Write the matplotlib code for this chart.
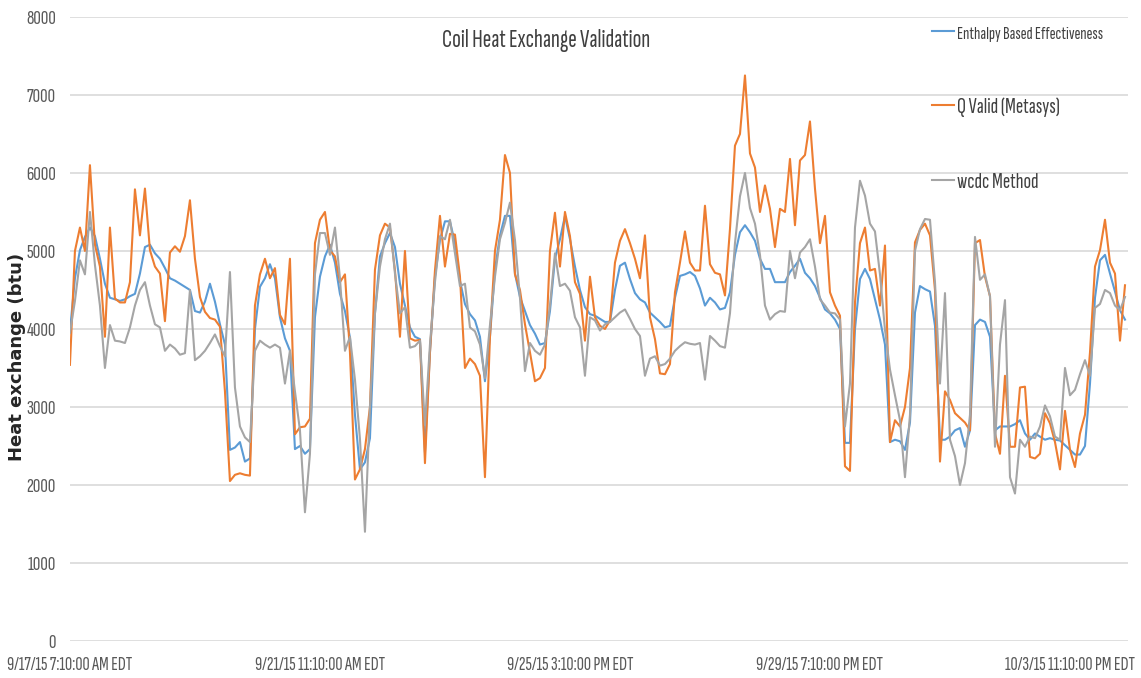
import numpy as np
import matplotlib
matplotlib.use('Agg')
import matplotlib.pyplot as plt
from matplotlib import font_manager

# pick a narrow sans face for the chart text, with a size factor for each
available = {f.name for f in font_manager.fontManager.ttflist}
narrow, k = 'DejaVu Sans', 0.7
for name, factor in [('Sofia Sans Extra Condensed', 1.0), ('Barlow Condensed', 0.85),
                     ('Roboto Condensed', 0.75), ('Liberation Sans', 0.7)]:
    if name in available:
        narrow, k = name, factor
        break
plt.rcParams['font.family'] = [narrow, 'DejaVu Sans']

# readings every 2 hours starting 9/17/15 7:10 AM EDT
enthalpy = [
    3970, 4650, 5010, 5180, 5300, 5190, 4900, 4580, 4400, 4380,
    4360, 4380, 4420, 4450, 4710, 5050, 5080, 4970, 4900, 4780,
    4650, 4620, 4580, 4540, 4500, 4230, 4210, 4350, 4580, 4350,
    4060, 3800, 2450, 2480, 2550, 2300, 2340, 4000, 4540, 4650,
    4830, 4650, 4150, 3880, 3720, 2460, 2500, 2400, 2460, 4150,
    4670, 4930, 5080, 4850, 4450, 4230, 3890, 2900, 2200, 2290,
    2600, 4200, 4930, 5100, 5230, 5050, 4580, 4300, 4020, 3900,
    3870, 2420, 3700, 4670, 5140, 5380, 5380, 5100, 4620, 4320,
    4190, 4110, 3900, 3330, 3900, 4760, 5200, 5450, 5450, 4710,
    4410, 4230, 4050, 3940, 3800, 3820, 4230, 4900, 5150, 5450,
    5150, 4800, 4500, 4280, 4190, 4170, 4130, 4090, 4090, 4500,
    4810, 4850, 4640, 4460, 4380, 4340, 4210, 4150, 4090, 4020,
    4040, 4400, 4680, 4700, 4730, 4680, 4520, 4300, 4400, 4340,
    4250, 4270, 4470, 4950, 5240, 5330, 5240, 5130, 4900, 4770,
    4770, 4600, 4600, 4600, 4730, 4810, 4900, 4720, 4650, 4550,
    4400, 4250, 4200, 4120, 4000, 2540, 2540, 4000, 4640, 4770,
    4640, 4380, 4120, 3800, 2550, 2580, 2560, 2450, 2800, 4210,
    4550, 4510, 4480, 4040, 2580, 2580, 2620, 2700, 2730, 2490,
    2700, 4050, 4120, 4090, 3900, 2700, 2750, 2750, 2750, 2780,
    2830, 2660, 2580, 2660, 2620, 2580, 2600, 2580, 2570, 2510,
    2450, 2390, 2390, 2500, 3300, 4400, 4880, 4950, 4710, 4480,
    4240, 4120,
]

q_valid = [
    3540, 5000, 5300, 5000, 6100, 5080, 4800, 3900, 5300, 4390,
    4340, 4340, 4600, 5790, 5200, 5800, 5010, 4800, 4710, 4100,
    4980, 5060, 4990, 5190, 5650, 4900, 4410, 4220, 4140, 4120,
    4030, 3200, 2050, 2130, 2150, 2130, 2120, 4300, 4700, 4900,
    4650, 4780, 4180, 4060, 4900, 2650, 2740, 2750, 2850, 5100,
    5400, 5500, 5010, 4930, 4600, 4700, 3700, 2070, 2200, 2460,
    3000, 4760, 5200, 5350, 5300, 4750, 3900, 5000, 3880, 3850,
    3860, 2280, 3700, 4750, 5450, 4800, 5220, 5210, 4670, 3500,
    3620, 3550, 3400, 2100, 3900, 5000, 5400, 6230, 6000, 4700,
    4500, 4060, 3700, 3330, 3370, 3500, 5000, 5490, 4800, 5500,
    5190, 4600, 4450, 3850, 4670, 4150, 4040, 4000, 4110, 4850,
    5130, 5280, 5100, 4900, 4650, 5200, 4150, 3870, 3430, 3420,
    3550, 4470, 4850, 5250, 4850, 4750, 4750, 5580, 4830, 4720,
    4700, 4430, 5280, 6350, 6500, 7250, 6250, 6070, 5500, 5840,
    5540, 5050, 5540, 5500, 6180, 5330, 6160, 6230, 6660, 5800,
    5100, 5450, 4470, 4300, 4170, 2240, 2180, 4340, 5100, 5300,
    4750, 4770, 4300, 5070, 2550, 2830, 2750, 3000, 3500, 5110,
    5270, 5350, 5200, 4500, 2300, 3200, 3090, 2920, 2860, 2800,
    2700, 5100, 5140, 4670, 4420, 2660, 2400, 3400, 2490, 2490,
    3250, 3260, 2360, 2340, 2400, 2920, 2790, 2550, 2200, 2950,
    2450, 2230, 2660, 2900, 3700, 4800, 5010, 5400, 4850, 4710,
    3850, 4560,
]

wcdc = [
    3950, 4360, 4880, 4700, 5500, 4820, 4300, 3500, 4050, 3850,
    3840, 3820, 4020, 4300, 4500, 4600, 4300, 4060, 4020, 3720,
    3800, 3750, 3670, 3690, 4500, 3600, 3650, 3720, 3820, 3930,
    3780, 3650, 4730, 3250, 2750, 2610, 2550, 3720, 3850, 3800,
    3760, 3800, 3760, 3300, 3720, 3200, 2700, 1650, 2400, 4700,
    5230, 5230, 4950, 5300, 4650, 3720, 3900, 3350, 2590, 1400,
    3000, 4200, 4800, 5150, 5350, 4710, 4200, 4280, 3760, 3780,
    3850, 2770, 3800, 4600, 5190, 5150, 5400, 4970, 4550, 4580,
    4020, 3970, 3800, 3370, 4050, 4670, 5150, 5360, 5620, 5140,
    4400, 3460, 3820, 3720, 3670, 3800, 4300, 4970, 4550, 4580,
    4490, 4150, 4020, 3400, 4150, 4110, 3980, 4060, 4090, 4150,
    4210, 4250, 4130, 4000, 3910, 3400, 3620, 3650, 3530, 3550,
    3620, 3720, 3780, 3830, 3810, 3800, 3820, 3350, 3910, 3850,
    3780, 3760, 4200, 5100, 5700, 6000, 5550, 5350, 4950, 4300,
    4120, 4190, 4230, 4220, 5000, 4650, 4980, 5050, 5150, 4800,
    4380, 4300, 4210, 4200, 4120, 2750, 3300, 5300, 5900, 5710,
    5350, 5250, 4700, 3990, 3480, 3150, 2830, 2100, 2900, 5000,
    5280, 5410, 5400, 4600, 3300, 4460, 2580, 2370, 2000, 2280,
    2900, 5180, 4630, 4700, 4420, 2490, 3800, 4370, 2100, 1890,
    2580, 2490, 2620, 2600, 2750, 3020, 2880, 2620, 2580, 3500,
    3150, 3220, 3420, 3600, 3400, 4270, 4320, 4500, 4460, 4300,
    4240, 4410,
]

tick_hours = [0, 100, 200, 300, 400]
tick_labels = ['9/17/15 7:10:00 AM EDT', '9/21/15 11:10:00 AM EDT',
               '9/25/15 3:10:00 PM EDT', '9/29/15 7:10:00 PM EDT',
               '10/3/15 11:10:00 PM EDT']

hours = np.arange(len(q_valid)) * 2

fig = plt.figure(figsize=(11.41, 6.78), dpi=100)
ax = fig.add_axes([0.0613, 0.0546, 0.9273, 0.9204])

ax.plot(hours, enthalpy, color='#5B9BD5', lw=1.5, label='Enthalpy Based Effectiveness')
ax.plot(hours, q_valid, color='#ED7D31', lw=1.5, label='Q Valid (Metasys)')
ax.plot(hours, wcdc, color='#A5A5A5', lw=1.5, label='wcdc Method')

ax.set_xlim(0, 423.2)
ax.set_ylim(0, 8000)
ax.set_yticks(np.arange(0, 8001, 1000))
ax.set_xticks(tick_hours)
ax.set_xticklabels(tick_labels)
ax.grid(axis='y', color='#D9D9D9', lw=1.2)
ax.set_axisbelow(True)
for s in ax.spines.values():
    s.set_visible(False)
ax.tick_params(length=0, colors='#595959')
ax.tick_params(axis='x', labelsize=14.3 * k, pad=11)
ax.tick_params(axis='y', labelsize=15 * k, pad=10)

ax.set_ylabel('Heat exchange (btu)', fontsize=13, fontweight='bold',
              family='DejaVu Sans', color='#262626')
ax.yaxis.set_label_coords(-0.0416, 0.455)

ax.text(0.45, 0.962, 'Coil Heat Exchange Validation', transform=ax.transAxes,
        ha='center', va='center', fontsize=18.5 * k, color='#404040')

leg = ax.legend(loc='upper left', bbox_to_anchor=(0.815, 0.99), frameon=False,
                borderpad=0, borderaxespad=0, handlelength=1.0, handletextpad=0.1,
                labelspacing=2.5, fontsize=16 * k)
leg.get_texts()[0].set_fontsize(13 * k)
for t in leg.get_texts():
    t.set_color('#404040')

fig.savefig('out.png', dpi=100)
